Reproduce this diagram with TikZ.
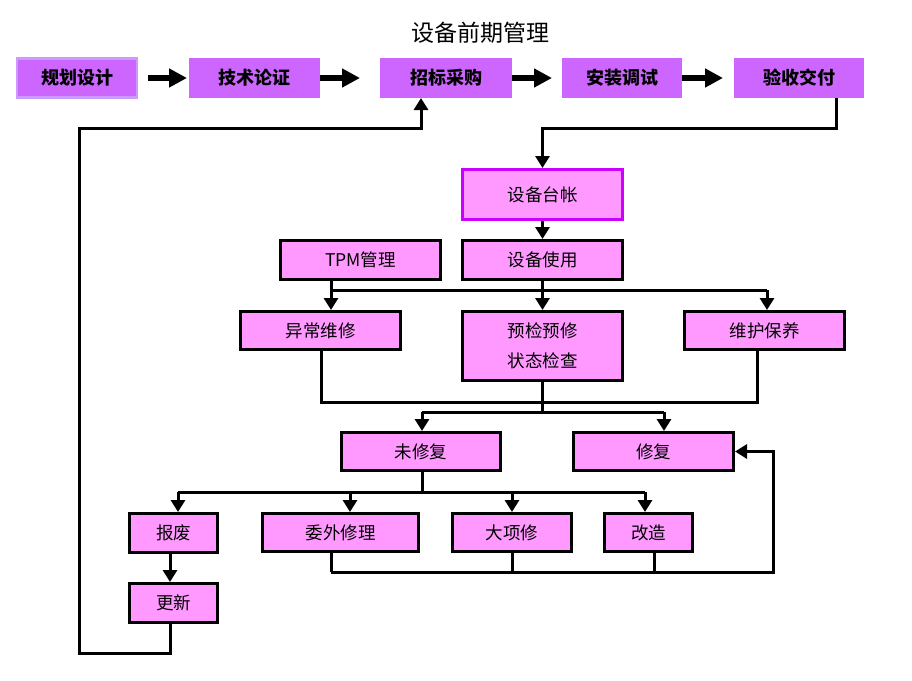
\documentclass[tikz,border=0pt]{standalone}
\usepackage{fontspec}
\setmainfont{Noto Sans CJK SC}
\usetikzlibrary{arrows.meta}
\definecolor{topc}{HTML}{CC66FF}
\definecolor{topedge}{HTML}{CC99FF}
\definecolor{boxc}{HTML}{FF99FF}
\definecolor{ledgeredge}{HTML}{CC00FF}
\begin{document}
\begin{tikzpicture}[x=1pt,y=-1pt,
  topbox/.style={fill=topc, draw=topc, line width=1pt, inner sep=0pt, minimum height=39pt,
    font=\bfseries\fontsize{18}{21}\selectfont},
  box/.style={fill=boxc, draw=black, line width=3pt, inner sep=0pt, minimum height=38pt,
    font=\fontsize{17.5}{20}\selectfont},
  bigarrow/.style={line width=6pt, -{Triangle[length=18pt,width=18pt]}},
  conn/.style={line width=3pt, line join=miter},
  arr/.style={conn, -{Triangle[length=12pt,width=14pt]}}
]
\useasboundingbox (0,0) rectangle (912,680);
\fill[white] (0,0) rectangle (912,680);

\node[font=\fontsize{23}{27}\selectfont] (title) at (480,33) {设备前期管理};

% top row
\node[topbox, draw=topedge, line width=2.5pt, minimum width=120pt] (t1) at (77,78) {规划设计};
\node[topbox, minimum width=130pt] (t2) at (254.5,78) {技术论证};
\node[topbox, minimum width=131pt] (t3) at (446,78) {招标采购};
\node[topbox, minimum width=119pt] (t4) at (622,78) {安装调试};
\node[topbox, minimum width=129pt] (t5) at (799,78) {验收交付};

\draw[bigarrow, shorten <=10pt, shorten >=2pt] (t1) -- (t2);
\draw[bigarrow, shorten <=0pt, shorten >=20pt] (t2) -- (t3);
\draw[bigarrow, shorten <=0pt, shorten >=10pt] (t3) -- (t4);
\draw[bigarrow, shorten <=0pt, shorten >=11pt] (t4) -- (t5);

% middle
\node[box, draw=ledgeredge, minimum width=160pt, minimum height=50pt] (ledger) at (542.5,194.5) {设备台帐};
\node[box, minimum width=160pt, minimum height=39pt] (tpm) at (360.5,260) {TPM管理};
\node[box, minimum width=160pt, minimum height=39pt] (use) at (542.5,260) {设备使用};

\node[box, minimum width=160pt] (yc) at (320.5,330.5) {异常维修};
\node[box, minimum width=160pt, minimum height=69pt, align=center,
  font=\fontsize{17.5}{30}\selectfont] (yj) at (542.5,346) {预检预修\\状态检查};
\node[box, minimum width=160pt] (wh) at (764.5,330.5) {维护保养};

\node[box, minimum width=159pt] (wxf) at (421,451.5) {未修复};
\node[box, minimum width=160pt] (xf) at (653.5,451.5) {修复};

\node[box, minimum width=88pt, minimum height=39pt] (bf) at (173.5,533) {报废};
\node[box, minimum width=156pt] (ww) at (340.5,532.5) {委外修理};
\node[box, minimum width=119pt] (dx) at (512,532.5) {大项修};
\node[box, minimum width=88pt] (gz) at (648.5,532.5) {改造};
\node[box, minimum width=88pt, minimum height=39pt] (gx) at (173.5,603) {更新};

% coordinates for routing
\coordinate (c1) at (836,128);
\coordinate (bar1) at (331,290);
\coordinate (bar1r) at (767,290);
\coordinate (bar2l) at (321,402);
\coordinate (bar2r) at (757,402);
\coordinate (bar3) at (543,412);
\coordinate (bar3l) at (422,412);
\coordinate (bar3r) at (664,412);
\coordinate (bar4) at (422,492);
\coordinate (bar4l) at (178,492);
\coordinate (bar4m) at (350,492);
\coordinate (bar4r) at (645,492);
\coordinate (b5l) at (331,572);
\coordinate (b5g) at (654,572);
\coordinate (b5r) at (773,572);
\coordinate (lp1) at (170,653);
\coordinate (lp2) at (79,128);
\coordinate (lp3) at (421,128);

% feedback from 验收交付 to 设备台帐
\draw[arr] (t5.south -| c1) -- (c1) -| (ledger.north);
\draw[arr] (ledger) -- (use);

% bar under TPM / 设备使用
\draw[conn] (tpm.south -| bar1) -- (bar1) -- (bar1r);
\draw[conn] (use.south) -- (use.south |- bar1);
\draw[arr] (bar1) -- (yc.north -| bar1);
\draw[arr] (use.south |- bar1) -- (yj.north);
\draw[arr] (bar1r) -- (wh.north -| bar1r);

% collect
\draw[conn] (yc.south -| bar2l) -- (bar2l) -- (bar2r) -- (wh.south -| bar2r);
\draw[conn] (yj.south) -- (yj.south |- bar3);
\draw[conn] (bar3l) -- (bar3r);
\draw[arr] (bar3l) -- (wxf.north -| bar3l);
\draw[arr] (bar3r) -- (xf.north -| bar3r);

% 未修复 split
\draw[conn] (wxf.south -| bar4) -- (bar4);
\draw[conn] (bar4l) -- (bar4r);
\draw[arr] (bar4l) -- (bf.north -| bar4l);
\draw[arr] (bar4m) -- (ww.north -| bar4m);
\draw[arr] (dx.north |- bar4) -- (dx.north);
\draw[arr] (bar4r) -- (gz.north -| bar4r);

% back to 修复
\draw[conn] (ww.south -| b5l) -- (b5l);
\draw[conn] (dx.south) -- (dx.south |- b5l);
\draw[conn] (gz.south -| b5g) -- (b5g);
\draw[arr] (b5l) -- (b5r) |- (xf.east);

% scrap -> renew -> back to bidding
\draw[arr] (bf.south -| lp1) -- (gx.north -| lp1);
\draw[arr] (gx.south -| lp1) -- (lp1) -| (lp2) -- (lp3) -- (t3.south -| lp3);
\end{tikzpicture}
\end{document}
